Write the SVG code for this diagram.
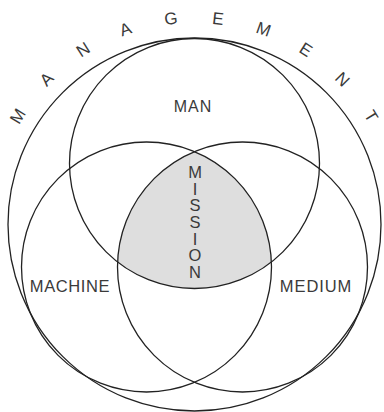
<svg xmlns="http://www.w3.org/2000/svg" width="384" height="412" viewBox="0 0 384 412">
<style>
.c{fill:none;stroke:#222;stroke-width:1.3}
.t{font-family:"Liberation Sans",Arial,sans-serif;font-size:16px;fill:#3a3a3a;text-anchor:middle}
.r{font-family:"Liberation Sans",Arial,sans-serif;font-size:17px;fill:#3a3a3a;text-anchor:middle}
.v{font-family:"Liberation Sans",Arial,sans-serif;font-size:16.5px;fill:#3a3a3a;text-anchor:middle}
</style>
<rect width="384" height="412" fill="#fff"/>
<g id="mission">
<path d="M194.5 151.6 A125 125 0 0 0 117.6 262 A125 125 0 0 0 271.4 262 A125 125 0 0 0 194.5 151.6 Z" fill="#dedede"/>
<text class="v" x="195" y="178">M</text>
<text class="v" x="195" y="194.7">I</text>
<text class="v" x="195" y="211.3">S</text>
<text class="v" x="195" y="228">S</text>
<text class="v" x="195" y="244.7">I</text>
<text class="v" x="195" y="261.3">O</text>
<text class="v" x="195" y="278">N</text>
</g>
<g id="management">
<circle class="c" cx="194.5" cy="224.5" r="186.5"/>
<text class="r" x="194.5" y="23" transform="rotate(-58.5 194.5 224.5)">M</text>
<text class="r" x="194.5" y="23" transform="rotate(-45.5 194.5 224.5)">A</text>
<text class="r" x="194.5" y="23" transform="rotate(-32.5 194.5 224.5)">N</text>
<text class="r" x="194.5" y="23" transform="rotate(-19.5 194.5 224.5)">A</text>
<text class="r" x="194.5" y="23" transform="rotate(-6.5 194.5 224.5)">G</text>
<text class="r" x="194.5" y="23" transform="rotate(6.5 194.5 224.5)">E</text>
<text class="r" x="194.5" y="23" transform="rotate(19.5 194.5 224.5)">M</text>
<text class="r" x="194.5" y="23" transform="rotate(32.5 194.5 224.5)">E</text>
<text class="r" x="194.5" y="23" transform="rotate(45.5 194.5 224.5)">N</text>
<text class="r" x="194.5" y="23" transform="rotate(58.5 194.5 224.5)">T</text>
</g>
<g id="man">
<circle class="c" cx="194.5" cy="163.5" r="125"/>
<text class="t" x="193" y="112" style="letter-spacing:1px">MAN</text>
</g>
<g id="machine">
<circle class="c" cx="146.5" cy="267" r="125"/>
<text class="t" x="70" y="292" style="font-size:16.5px;letter-spacing:0.6px">MACHINE</text>
</g>
<g id="medium">
<circle class="c" cx="242.5" cy="267" r="125"/>
<text class="t" x="316" y="292" style="font-size:16.5px;letter-spacing:0.9px">MEDIUM</text>
</g>
</svg>
